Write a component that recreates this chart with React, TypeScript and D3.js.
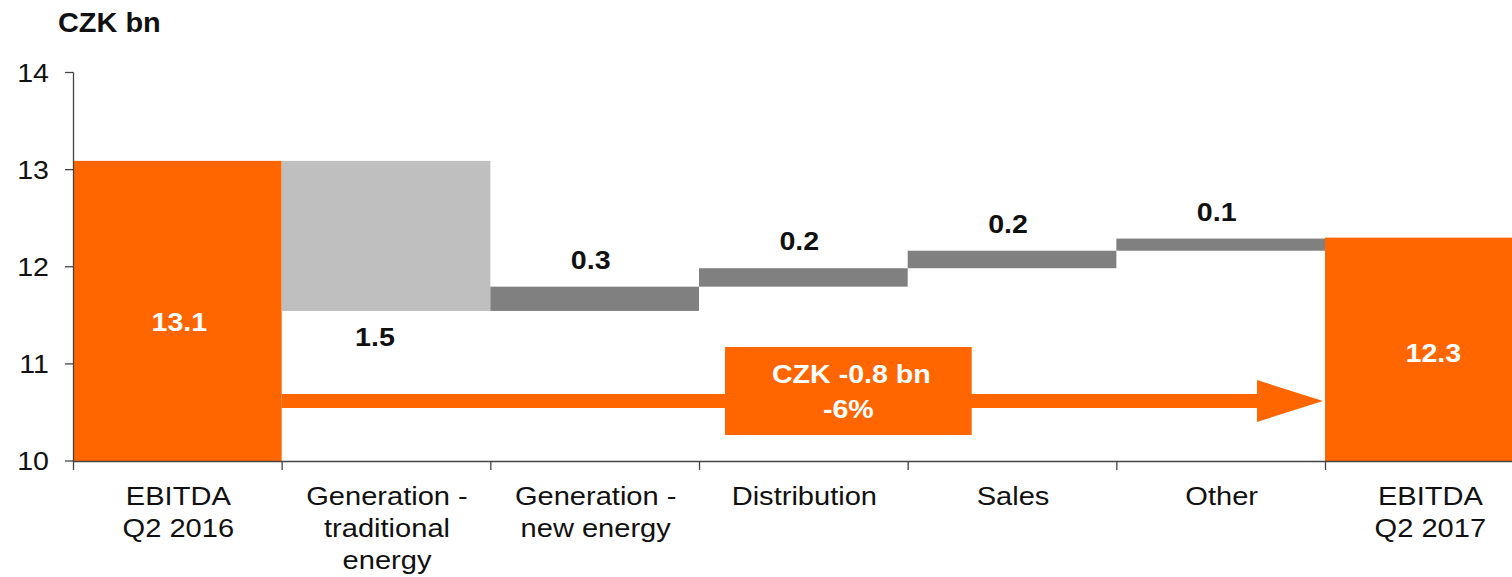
import React from "react";
import * as d3 from "d3";

const categories = [
  ["EBITDA", "Q2 2016"],
  ["Generation -", "traditional", "energy"],
  ["Generation -", "new energy"],
  ["Distribution"],
  ["Sales"],
  ["Other"],
  ["EBITDA", "Q2 2017"],
];
const startValue = 13.09;
const deltas = [-1.545, 0.25, 0.19, 0.18, 0.125];
const endValue = 12.3;
const deltaLabels = ["1.5", "0.3", "0.2", "0.2", "0.1"];
const totalLabels = ["13.1", "12.3"];
const yTicks = [10, 11, 12, 13, 14];
const changeText = ["CZK -0.8 bn", "-6%"];

const ORANGE = "#FF6600";
const LIGHT = "#BFBFBF";
const DARK = "#808080";
const FONT = "'Liberation Sans', Arial, sans-serif";

function T(props: {
  x: number; y: number; sx?: number; size: number; bold?: boolean; fill?: string;
  anchor?: "start" | "middle" | "end"; children: React.ReactNode;
}) {
  const { x, y, sx = 1.13, size, bold, fill = "#111", anchor = "middle", children } = props;
  return (
    <text
      transform={`translate(${x},${y}) scale(${sx},1)`}
      textAnchor={anchor}
      fontSize={size}
      fontWeight={bold ? "bold" : "normal"}
      fill={fill}
    >
      {children}
    </text>
  );
}

export default function App() {
  const W = 1512, H = 577;
  const ids = categories.map((_, i) => String(i));
  const x = d3.scaleBand<string>().domain(ids).range([73, 73 + 7 * 208.67]).padding(0);
  const y = d3.scaleLinear().domain([10, 14]).range([461, 72.5]);
  const bw = x.bandwidth();

  const steps: { from: number; to: number }[] = [];
  let cur = startValue;
  deltas.forEach((d) => {
    steps.push({ from: cur, to: cur + d });
    cur += d;
  });

  const arrowY = 401;
  const arrowStart = (x("0") as number) + bw;
  const arrowTip = (x("6") as number) - 2;
  const boxX0 = (x("3") as number) + 26;
  const boxX1 = (x("4") as number) + 64;

  return (
    <svg width={W} height={H} style={{ position: "absolute", left: 0, top: 0 }} fontFamily={FONT}>
      <rect width={W} height={H} fill="#fff" />
      <T x={58} y={32} size={27} bold anchor="start" sx={1.07}>CZK bn</T>

      <rect x={x("0")} y={y(startValue)} width={bw} height={y(10) - y(startValue)} fill={ORANGE} />
      <rect x={x("6")} y={y(endValue)} width={bw} height={y(10) - y(endValue)} fill={ORANGE} />

      {steps.map((s, i) => {
        const top = y(Math.max(s.from, s.to));
        const bot = y(Math.min(s.from, s.to));
        const cx = (x(String(i + 1)) as number) + bw / 2;
        const neg = s.to < s.from;
        return (
          <g key={i}>
            <rect x={x(String(i + 1))} y={top} width={bw} height={bot - top} fill={neg ? LIGHT : DARK} />
            <T x={neg ? cx - 11 : cx - 4} y={neg ? bot + 35 : top - 18} size={26} bold sx={1.1}>
              {deltaLabels[i]}
            </T>
          </g>
        );
      })}

      <T x={(x("0") as number) + bw / 2 + 2} y={331} size={26} bold fill="#fff" sx={1.1}>{totalLabels[0]}</T>
      <T x={(x("6") as number) + bw / 2 + 4} y={362} size={26} bold fill="#fff" sx={1.1}>{totalLabels[1]}</T>

      <rect x={arrowStart} y={arrowY - 7} width={arrowTip - 65 - arrowStart} height={14} fill={ORANGE} />
      <path
        d={`M${arrowTip - 66},${arrowY - 21} L${arrowTip},${arrowY} L${arrowTip - 66},${arrowY + 21} Z`}
        fill={ORANGE}
      />
      <rect x={boxX0} y={347} width={boxX1 - boxX0} height={88} fill={ORANGE} />
      <T x={(boxX0 + boxX1) / 2 + 3} y={383} size={26} bold fill="#fff" sx={1.1}>{changeText[0]}</T>
      <T x={(boxX0 + boxX1) / 2} y={418} size={26} bold fill="#fff" sx={1.1}>{changeText[1]}</T>

      <line x1={73.5} x2={73.5} y1={y(14)} y2={y(10)} stroke="#444" strokeWidth={1.3} />
      {yTicks.map((t) => (
        <g key={t}>
          <line x1={65} x2={73.5} y1={y(t)} y2={y(t)} stroke="#444" strokeWidth={1.3} />
          <T x={49} y={y(t) + 9} size={25.5} anchor="end" sx={1.12}>{t}</T>
        </g>
      ))}

      <line x1={73} x2={W} y1={461.5} y2={461.5} stroke="#444" strokeWidth={1.3} />
      {ids.map((id) => (
        <line key={id} x1={(x(id) as number) + 0.5} x2={(x(id) as number) + 0.5} y1={461} y2={470} stroke="#444" strokeWidth={1.3} />
      ))}
      {categories.map((lines, i) =>
        lines.map((l, j) => (
          <T key={i + "-" + j} x={(x(String(i)) as number) + bw / 2 + 1} y={505 + j * 32} size={25.5} sx={1.14}>
            {l}
          </T>
        ))
      )}
    </svg>
  );
}
